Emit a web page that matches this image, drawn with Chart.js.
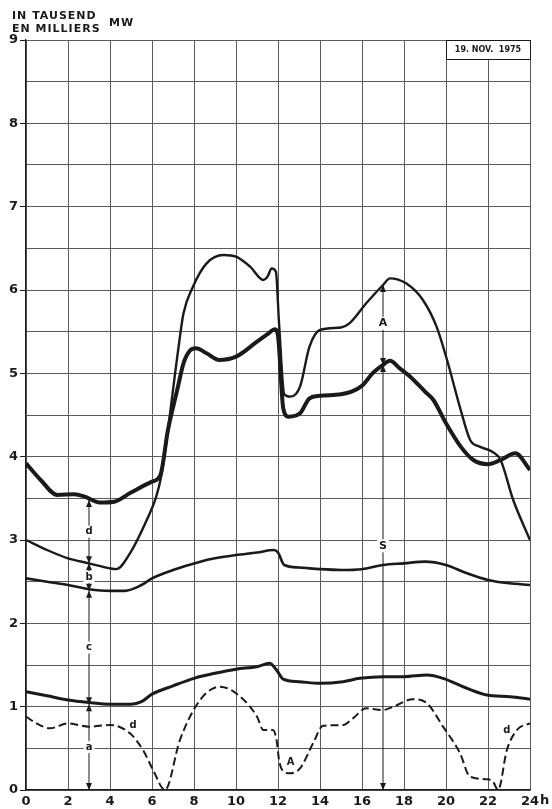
<!DOCTYPE html>
<html>
<head>
<meta charset="utf-8">
<script src="https://cdn.jsdelivr.net/npm/chart.js@4.4.0/dist/chart.umd.min.js"></script>
<style>
  html, body { margin: 0; padding: 0; background: #fff; }
  canvas { display: block; }
</style>
</head>
<body>
<canvas id="chartLast" width="552" height="809"></canvas>
<script>
// Gesamtlast (dicke Kurve)
const totalHours = [0, 0.7, 1.5, 2.3, 2.8, 3.5, 4.2, 5, 6, 6.4, 6.76, 7.2, 7.5, 7.8, 8.1, 8.6, 9.2, 10, 11, 11.5, 11.85, 12.0, 12.25, 12.5, 13.05, 13.5, 14, 15, 15.5, 16, 16.5, 17, 17.33, 17.8, 18.3, 19, 19.4, 20, 20.7, 21.3, 22, 22.6, 23.3, 24];
const totalValues = [3.92, 3.72, 3.54, 3.55, 3.52, 3.45, 3.46, 3.57, 3.7, 3.78, 4.32, 4.8, 5.12, 5.27, 5.3, 5.24, 5.16, 5.2, 5.38, 5.47, 5.53, 5.45, 4.58, 4.48, 4.52, 4.7, 4.73, 4.75, 4.78, 4.85, 5.0, 5.1, 5.15, 5.06, 4.96, 4.78, 4.68, 4.4, 4.12, 3.96, 3.91, 3.96, 4.04, 3.84];

// obere duenne Kurve
const upperHours = [0, 1, 2, 3, 4, 4.3, 4.95, 5.75, 6.2, 6.45, 6.76, 7.1, 7.33, 7.5, 7.95, 8.6, 9.4, 10, 10.67, 11.3, 11.5, 11.7, 11.9, 12.05, 12.3, 12.6, 13.05, 13.5, 14, 15, 15.4, 16.2, 17, 17.33, 18.1, 18.9, 19.55, 20.05, 20.7, 21.15, 21.6, 22.2, 22.6, 23.2, 24];
const upperValues = [3.0, 2.88, 2.78, 2.72, 2.66, 2.65, 2.84, 3.24, 3.52, 3.78, 4.32, 5.0, 5.44, 5.72, 6.04, 6.32, 6.42, 6.4, 6.28, 6.12, 6.16, 6.26, 6.22, 5.6, 4.75, 4.72, 4.84, 5.32, 5.52, 5.55, 5.6, 5.84, 6.06, 6.14, 6.08, 5.88, 5.56, 5.16, 4.56, 4.2, 4.12, 4.06, 3.96, 3.48, 3.0];

// S
const sHours = [0, 1, 2, 3, 4, 4.7, 5.5, 6, 7, 8.3, 9, 10, 11, 11.8, 12.0, 12.3, 13, 14, 15, 16, 17, 18, 19, 20, 21, 22, 23, 24];
const sValues = [2.54, 2.5, 2.46, 2.41, 2.39, 2.39, 2.46, 2.54, 2.64, 2.74, 2.78, 2.82, 2.85, 2.88, 2.85, 2.7, 2.67, 2.65, 2.64, 2.65, 2.7, 2.72, 2.74, 2.7, 2.6, 2.52, 2.48, 2.46];

// untere Kurve (a / c)
const baseHours = [0, 1, 2, 3, 4, 5, 5.5, 6, 7, 8, 9, 10, 11, 11.6, 11.93, 12.25, 13, 14, 15.1, 15.9, 17, 18, 19.1, 19.86, 21, 21.95, 23.05, 24];
const baseValues = [1.18, 1.13, 1.08, 1.05, 1.03, 1.03, 1.06, 1.15, 1.25, 1.34, 1.4, 1.45, 1.48, 1.52, 1.44, 1.33, 1.3, 1.28, 1.3, 1.34, 1.36, 1.36, 1.38, 1.34, 1.22, 1.14, 1.12, 1.09];

// gestrichelte Kurve (d / A)
const dashHours = [0, 0.5, 1.14, 2, 3, 4, 4.95, 5.57, 6.05, 6.62, 7.33, 8.29, 9.24, 10.2, 11, 11.3, 11.76, 11.93, 12.05, 12.2, 12.57, 13.05, 13.67, 14.14, 15.1, 15.57, 16.2, 17, 17.5, 18.43, 19.1, 19.86, 20.67, 21.14, 21.95, 22.24, 22.48, 22.9, 23.38, 24];
const dashValues = [0.88, 0.8, 0.74, 0.8, 0.76, 0.78, 0.68, 0.48, 0.24, 0.0, 0.6, 1.08, 1.24, 1.12, 0.88, 0.72, 0.72, 0.6, 0.36, 0.24, 0.2, 0.26, 0.56, 0.77, 0.78, 0.86, 0.98, 0.96, 1.0, 1.09, 1.04, 0.76, 0.44, 0.16, 0.13, 0.1, 0.0, 0.48, 0.72, 0.8];

// Masspfeile
const arrowLeftHour = 3;
const arrowLeftLevels = [0, 1.03, 2.39, 2.72, 3.48];
const arrowLeftLabels = ['a', 'c', 'b', 'd'];
const arrowRightHour = 17;
const arrowRightLevels = [0, 5.1, 6.06];
const arrowRightLabels = ['S', 'A'];
const arrowRightLabelValues = [2.93, 5.6];

// freie Beschriftungen
const noteTexts = ['d', 'A', 'd'];
const noteHours = [5.1, 12.6, 22.9];
const noteValues = [0.77, 0.33, 0.71];

const xTicks = [0, 2, 4, 6, 8, 10, 12, 14, 16, 18, 20, 22, 24];

function pts(hs, vs) {
    return hs.map(function (h, i) { return { x: h, y: vs[i] }; });
}

const INK = '#1a1a1a';
const FONT = '"DejaVu Sans", sans-serif';

function head(ctx, px, py, dir) {
    ctx.beginPath();
    ctx.moveTo(px, py);
    ctx.lineTo(px - 3, py - dir * 7);
    ctx.lineTo(px + 3, py - dir * 7);
    ctx.closePath();
    ctx.fill();
}

function label(ctx, text, px, py, size, clear) {
    ctx.font = 'bold ' + size + 'px ' + FONT;
    const w = ctx.measureText(text).width;
    if (clear) {
        ctx.fillStyle = '#fff';
        ctx.fillRect(px - w / 2 - 2, py - size / 2 - 1, w + 4, size + 2);
    }
    ctx.fillStyle = INK;
    ctx.textAlign = 'center';
    ctx.textBaseline = 'middle';
    ctx.fillText(text, px, py);
}

function dimension(ctx, x, y, hour, levels) {
    const px = x.getPixelForValue(hour);
    ctx.strokeStyle = INK;
    ctx.fillStyle = INK;
    ctx.lineWidth = 1;
    ctx.beginPath();
    ctx.moveTo(px, y.getPixelForValue(levels[0]));
    ctx.lineTo(px, y.getPixelForValue(levels[levels.length - 1]));
    ctx.stroke();
    for (let i = 0; i < levels.length - 1; i++) {
        const lo = y.getPixelForValue(levels[i]);
        const hi = y.getPixelForValue(levels[i + 1]);
        head(ctx, px, lo, 1);
        head(ctx, px, hi, -1);
    }
}

const deco = {
    id: 'deco',
    afterDatasetsDraw(chart) {
        const ctx = chart.ctx;
        const x = chart.scales.x;
        const y = chart.scales.y;
        ctx.save();
        dimension(ctx, x, y, arrowLeftHour, arrowLeftLevels);
        arrowLeftLabels.forEach(function (t, i) {
            const mid = (arrowLeftLevels[i] + arrowLeftLevels[i + 1]) / 2;
            label(ctx, t, x.getPixelForValue(arrowLeftHour), y.getPixelForValue(mid), 10, true);
        });
        dimension(ctx, x, y, arrowRightHour, arrowRightLevels);
        arrowRightLabels.forEach(function (t, i) {
            label(ctx, t, x.getPixelForValue(arrowRightHour), y.getPixelForValue(arrowRightLabelValues[i]), 11, true);
        });
        noteTexts.forEach(function (t, i) {
            label(ctx, t, x.getPixelForValue(noteHours[i]), y.getPixelForValue(noteValues[i]), 10, false);
        });
        ctx.restore();
    },
    afterDraw(chart) {
        const ctx = chart.ctx;
        const x = chart.scales.x;
        const y = chart.scales.y;
        ctx.save();
        // Einheit
        ctx.fillStyle = INK;
        ctx.textAlign = 'left';
        ctx.textBaseline = 'alphabetic';
        ctx.font = 'bold 11px ' + FONT;
        ctx.letterSpacing = '1px';
        ctx.fillText('IN TAUSEND', 12, 19);
        ctx.fillText('EN MILLIERS', 12, 32);
        ctx.fillText('MW', 109, 26);
        ctx.letterSpacing = '0px';
        // Datum
        const bx = x.getPixelForValue(20);
        const bw = x.getPixelForValue(24) - bx;
        const by = y.getPixelForValue(9);
        ctx.fillStyle = '#fff';
        ctx.fillRect(bx, by, bw, 19);
        ctx.strokeStyle = INK;
        ctx.lineWidth = 1;
        ctx.strokeRect(bx + 0.5, by + 0.5, bw, 19);
        ctx.fillStyle = INK;
        ctx.font = 'bold 8px ' + FONT;
        ctx.textAlign = 'center';
        ctx.textBaseline = 'middle';
        ctx.fillText('19. NOV.  1975', bx + bw / 2, by + 10);
        // "h" hinter 24
        ctx.font = 'bold 13px ' + FONT;
        const w24 = ctx.measureText('24').width;
        ctx.textAlign = 'left';
        ctx.textBaseline = 'top';
        ctx.fillText('h', x.getPixelForValue(24) + w24 / 2 + 1, y.bottom + 4);
        ctx.restore();
    }
};

new Chart(document.getElementById('chartLast').getContext('2d'), {
    type: 'line',
    data: {
        datasets: [
            { data: pts(dashHours, dashValues), borderColor: INK, borderWidth: 2, borderDash: [8, 4] },
            { data: pts(baseHours, baseValues), borderColor: INK, borderWidth: 3 },
            { data: pts(sHours, sValues), borderColor: INK, borderWidth: 2.6 },
            { data: pts(upperHours, upperValues), borderColor: INK, borderWidth: 2.4 },
            { data: pts(totalHours, totalValues), borderColor: INK, borderWidth: 4 }
        ]
    },
    options: {
        responsive: false,
        animation: false,
        devicePixelRatio: 1,
        layout: { padding: { top: 40, right: 22, left: 0, bottom: 0 } },
        elements: {
            point: { radius: 0 },
            line: { cubicInterpolationMode: 'monotone', fill: false }
        },
        plugins: { legend: { display: false }, tooltip: { enabled: false } },
        scales: {
            x: {
                type: 'linear',
                min: 0,
                max: 24,
                afterBuildTicks: function (s) { s.ticks = xTicks.map(function (v) { return { value: v }; }); },
                afterFit: function (s) { s.height = 19; },
                border: { color: INK, width: 1.2 },
                grid: { color: '#5a5a5a', lineWidth: 1, tickLength: 0 },
                ticks: {
                    color: INK,
                    padding: 4,
                    maxRotation: 0,
                    font: { family: FONT, size: 13, weight: 'bold' },
                    callback: function (v) { return String(v); }
                }
            },
            y: {
                min: 0,
                max: 9,
                afterFit: function (s) { s.width = 26; },
                border: { color: INK, width: 1.2 },
                grid: {
                    color: '#5a5a5a',
                    lineWidth: 1,
                    tickLength: 6,
                    tickColor: function (c) { return c.tick && c.tick.value % 1 === 0 ? INK : 'rgba(0,0,0,0)'; }
                },
                ticks: {
                    stepSize: 0.5,
                    color: INK,
                    padding: 2,
                    font: { family: FONT, size: 13, weight: 'bold' },
                    callback: function (v) { return v % 1 === 0 ? String(v) : ''; }
                }
            }
        }
    },
    plugins: [deco]
});
</script>
</body>
</html>
